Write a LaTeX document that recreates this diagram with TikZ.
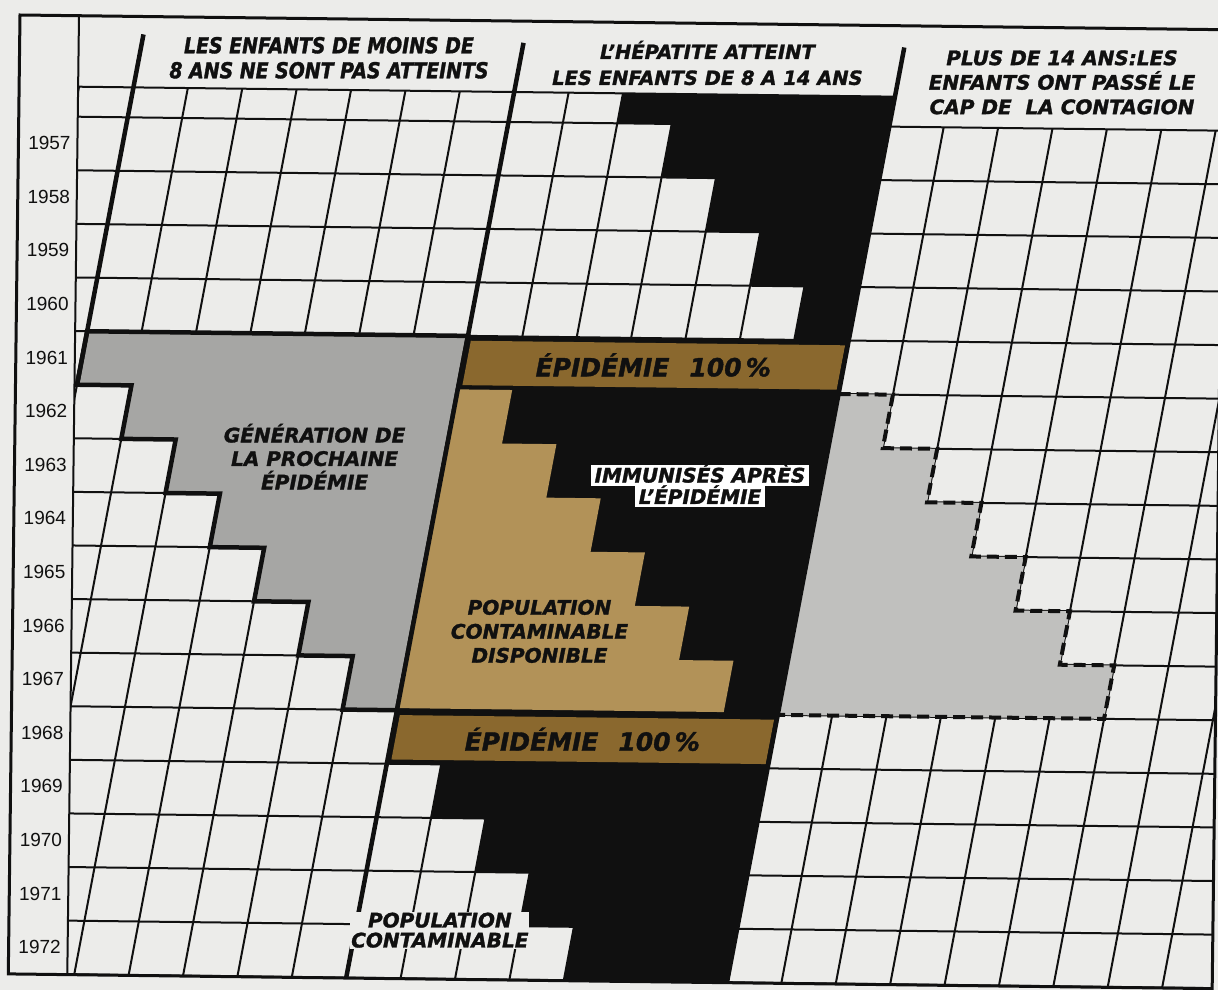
\documentclass[tikz,border=0pt]{standalone}
\usepackage{fontspec}
\setmainfont{Liberation Sans}
\newfontfamily\headfont{DejaVu Sans}[FakeBold=1.5]
\newfontfamily\narrowfont{DejaVu Sans}[FakeStretch=0.86,FakeBold=1.5]
\usepackage{tikz}
\usetikzlibrary{positioning}
\definecolor{paper}{RGB}{236,236,234}
\definecolor{ink}{RGB}{16,16,16}
\definecolor{gengray}{RGB}{166,166,164}
\definecolor{agegray}{RGB}{192,192,190}
\definecolor{epibrown}{RGB}{138,104,46}
\definecolor{poptan}{RGB}{178,146,88}

\begin{document}
\begin{tikzpicture}[x=1pt,y=-1pt,
  gridline/.style={line width=2pt,draw=ink},
  heavy/.style={line width=4.5pt,draw=ink},
  dashedge/.style={line width=4pt,draw=ink,dash pattern=on 12pt off 6pt},
  yearlbl/.style={font=\fontsize{19}{19}\selectfont,text=ink},
  caps/.style={font=\headfont\bfseries\itshape\fontsize{20}{24}\selectfont,align=center,text=ink,inner sep=1pt}]
  \useasboundingbox (0,0) rectangle (1218,990);
  \fill[paper] (0,0) rectangle (1218,990);
  \begin{scope}[rotate around={-0.7:(20,15)}]
    \begin{scope}
      \clip (79,15) rectangle (1224,974);
      \begin{scope}[shift={(129,116)},x={(54.4pt,0pt)},y={(-9.49pt,-53.6pt)}]
        \draw[gridline] (-5,-0.56) -- (14,-0.56);
        \foreach \r in {0,...,16}
          \draw[gridline] (-5,\r) -- (26,\r);
        \foreach \c in {-3,...,13}
          \draw[gridline] (\c,-0.56) -- (\c,16);
        \foreach \c in {15,...,24}
          \draw[gridline] (\c,0) -- (\c,16);
        \filldraw[heavy,fill=gengray] (0,4) -- (7,4) -- (7,11) -- (6,11) -- (6,10) -- (5,10) -- (5,9) -- (4,9) -- (4,8) -- (3,8) -- (3,7) -- (2,7) -- (2,6) -- (1,6) -- (1,5) -- (0,5) -- cycle;
        \fill[ink] (9,-0.56) -- (14,-0.56) -- (14,4) -- (13,4) -- (13,3) -- (12,3) -- (12,2) -- (11,2) -- (11,1) -- (10,1) -- (10,0) -- (9,0) -- cycle;
        \fill[ink] (7,4) -- (14,4) -- (14,12) -- (7,12) -- cycle;
        \fill[ink] (8,12) -- (14,12) -- (14,16) -- (11,16) -- (11,15) -- (10,15) -- (10,14) -- (9,14) -- (9,13) -- (8,13) -- cycle;
        \fill[epibrown] (7.07,4.09) -- (13.95,4.09) -- (13.95,4.92) -- (7.07,4.92) -- cycle;
        \fill[epibrown] (7.07,11.09) -- (13.95,11.09) -- (13.95,11.92) -- (7.07,11.92) -- cycle;
        \fill[poptan] (7,5) -- (8,5) -- (8,6) -- (9,6) -- (9,7) -- (10,7) -- (10,8) -- (11,8) -- (11,9) -- (12,9) -- (12,10) -- (13,10) -- (13,10.96) -- (7,10.96) -- cycle;
        \fill[agegray] (14,5) -- (15,5) -- (15,6) -- (16,6) -- (16,7) -- (17,7) -- (17,8) -- (18,8) -- (18,9) -- (19,9) -- (19,10) -- (20,10) -- (20,11) -- (14,11) -- cycle;
        \draw[dashedge] (14,5) -- (15,5) -- (15,6) -- (16,6) -- (16,7) -- (17,7) -- (17,8) -- (18,8) -- (18,9) -- (19,9) -- (19,10) -- (20,10) -- (20,11) -- (14,11);
        \draw[heavy] (0,-1.55) -- (0,5);
        \draw[heavy] (7,-1.48) -- (7,16);
        \draw[heavy] (14,-1.48) -- (14,16);
        \node[caps,font=\headfont\bfseries\itshape\fontsize{25}{25}\selectfont] (epi1) at (10.5,4.5) {ÉPIDÉMIE\hspace{0.8em}100\,\%};
        \node[caps,font=\headfont\bfseries\itshape\fontsize{25}{25}\selectfont] (epi2) at (10.5,11.5) {ÉPIDÉMIE\hspace{0.8em}100\,\%};
      \end{scope}
    \end{scope}
    \draw[line width=3pt,draw=ink] (20,15) rectangle (1224,974);
    \draw[line width=2pt,draw=ink] (79,15) -- (79,974);
    \foreach \yr [count=\k from 0] in {1957,...,1972}
      \node[yearlbl] (y\yr) at (51,{142.8+53.6*\k}) {\yr};
    \node[caps,font=\narrowfont\bfseries\itshape\fontsize{22}{25}\selectfont] (young) at (329.5,54) {LES ENFANTS DE MOINS DE\\8 ANS NE SONT PAS ATTEINTS};
    \node[caps,font=\headfont\bfseries\itshape\fontsize{19.5}{26}\selectfont] (middle) at (708,54.6) {L’HÉPATITE ATTEINT\\LES ENFANTS DE 8 A 14 ANS};
    \node[caps,font=\headfont\bfseries\itshape\fontsize{20}{24.5}\selectfont] (older) at (1062.8,69.6) {PLUS DE 14 ANS:LES\\ENFANTS ONT PASSÉ LE\\CAP DE~~LA CONTAGION};
    \node[caps,font=\headfont\bfseries\itshape\fontsize{20}{23.5}\selectfont] (gen) at (320,453) {GÉNÉRATION DE\\LA PROCHAINE\\ÉPIDÉMIE};
    \node[caps,fill=white,text height=16pt,text depth=1pt,inner xsep=4pt,inner ysep=2pt] (imm1) at (705.6,466.7) {IMMUNISÉS APRÈS};
    \node[caps,fill=white,text height=16pt,text depth=1pt,inner xsep=4pt,inner ysep=2pt,below=0pt of imm1] (imm2) {L’ÉPIDÉMIE};
    \node[caps] (avail) at (547,625) {POPULATION\\CONTAMINABLE\\DISPONIBLE};
    \node[caps,fill=paper,font=\headfont\bfseries\itshape\fontsize{20}{20}\selectfont] (open) at (451,925) {POPULATION\\CONTAMINABLE};
  \end{scope}
\end{tikzpicture}
\end{document}
